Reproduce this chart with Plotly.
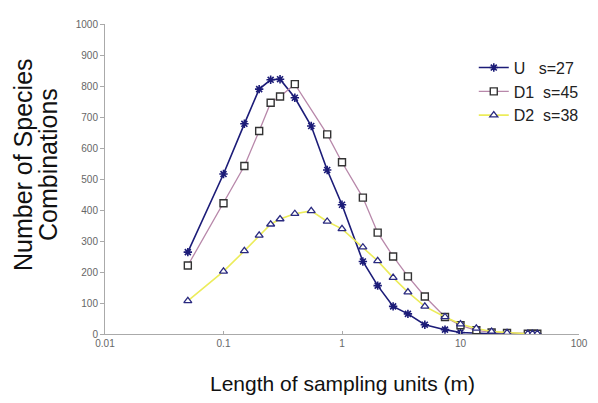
import plotly.graph_objects as go

length_u = [0.05, 0.1, 0.15, 0.2, 0.25, 0.3, 0.4, 0.55, 0.75, 1, 1.5, 2, 2.7, 3.6, 5, 7.4, 10, 13.6, 18.3, 24.7, 37, 40.5, 44.5]
u_vals = [264, 516, 678, 790, 820, 822, 762, 671, 529, 417, 234, 156, 89, 65, 30, 14, 5, 2, 1, 0, 0, 0, 0]

length_d1 = [0.05, 0.1, 0.15, 0.2, 0.25, 0.3, 0.4, 0.75, 1, 1.5, 2, 2.7, 3.6, 5, 7.4, 10, 13.6, 18.3, 24.7, 37, 40.5, 44.5]
d1_vals = [221, 422, 542, 655, 746, 766, 806, 644, 554, 440, 327, 250, 186, 121, 55, 28, 12, 5, 3, 1, 1, 1]

length_d2 = [0.05, 0.1, 0.15, 0.2, 0.25, 0.3, 0.4, 0.55, 0.75, 1, 1.5, 2, 2.7, 3.6, 5, 7.4, 10, 13.6, 18.3, 24.7, 37, 40.5, 44.5]
d2_vals = [107, 202, 268, 318, 354, 371, 388, 397, 363, 339, 280, 236, 182, 135, 89, 55, 32, 18, 8, 4, 1, 1, 1]

x_ticks = [0.01, 0.1, 1, 10, 100]
x_tick_labels = ["0.01", "0.1", "1", "10", "100"]
y_ticks = [0, 100, 200, 300, 400, 500, 600, 700, 800, 900, 1000]

NARROW = "Liberation Sans Narrow, Liberation Sans, Arial"
SANS = "Liberation Sans, Arial"

fig = go.Figure()
fig.add_trace(go.Scatter(
    x=length_u, y=u_vals, name="U   s=27", mode="lines+markers",
    line=dict(color="#1c1c78", width=1.6),
    marker=dict(symbol="asterisk-open", size=7, line=dict(color="#1c1c78", width=1.6)),
))
fig.add_trace(go.Scatter(
    x=length_d1, y=d1_vals, name="D1  s=45", mode="lines+markers",
    line=dict(color="#b888aa", width=1.3),
    marker=dict(symbol="square", size=7, color="white", line=dict(color="#333333", width=1.4)),
))
fig.add_trace(go.Scatter(
    x=length_d2, y=d2_vals, name="D2  s=38", mode="lines+markers",
    line=dict(color="#ecec5a", width=1.6),
    marker=dict(symbol="triangle-up", size=7, color="white", line=dict(color="#2a2a80", width=1.3)),
))

fig.update_layout(
    width=582, height=387,
    margin=dict(l=97, r=2, t=16, b=61),
    paper_bgcolor="white", plot_bgcolor="white",
    font=dict(family=NARROW, color="#444444"),
    showlegend=True,
    legend=dict(x=0.778, y=0.914, xanchor="left", yanchor="top",
                font=dict(size=16, family=NARROW, color="#222222"),
                bgcolor="rgba(0,0,0,0)", itemwidth=30),
    xaxis=dict(type="log", range=[-2, 2], tickvals=x_ticks, ticktext=x_tick_labels,
               showgrid=False, zeroline=False, showline=True, linecolor="#aaaaaa", linewidth=1,
               ticks="inside", ticklen=3, tickcolor="#aaaaaa", ticklabeloverflow="allow",
               tickfont=dict(size=10, color="#666666")),
    yaxis=dict(range=[0, 1000], tickvals=y_ticks,
               showgrid=False, zeroline=False, showline=True, linecolor="#aaaaaa", linewidth=1,
               ticks="outside", ticklen=4, tickcolor="#aaaaaa",
               tickfont=dict(size=10, color="#666666")),
    annotations=[
        dict(text="Length of sampling units (m)", xref="paper", yref="paper",
             x=0.5, y=0, yshift=-49, xanchor="center", yanchor="middle", showarrow=False,
             font=dict(size=21, family=SANS, color="#111111")),
        dict(text="Number of Species", xref="paper", yref="paper",
             x=0, y=0.545, xshift=-82, xanchor="center", yanchor="middle", textangle=-90,
             showarrow=False, font=dict(size=25, family=SANS, color="#111111")),
        dict(text="Combinations", xref="paper", yref="paper",
             x=0, y=0.545, xshift=-57, xanchor="center", yanchor="middle", textangle=-90,
             showarrow=False, font=dict(size=25, family=SANS, color="#111111")),
    ],
)

fig.write_html("out.html")
